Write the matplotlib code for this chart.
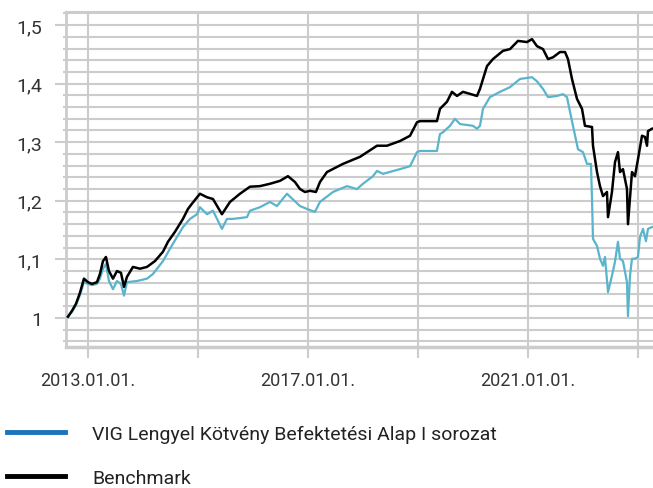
import numpy as np
import matplotlib.pyplot as plt
from matplotlib.lines import Line2D
from matplotlib.ticker import FuncFormatter, MultipleLocator, FixedLocator

plt.rcParams['font.family'] = ['Roboto', 'DejaVu Sans']

# benchmark (decimal year, value)
bm_year = [2012.636, 2012.709, 2012.782, 2012.855, 2012.927, 2013.0, 2013.073, 2013.164,
           2013.218, 2013.273, 2013.327, 2013.382, 2013.455, 2013.527, 2013.6, 2013.655,
           2013.709, 2013.818, 2013.945, 2014.073, 2014.218, 2014.364, 2014.455, 2014.582,
           2014.727, 2014.818, 2014.891, 2015.036, 2015.164, 2015.273, 2015.436, 2015.582,
           2015.764, 2015.945, 2016.127, 2016.309, 2016.491, 2016.636, 2016.764, 2016.855,
           2016.945, 2017.036, 2017.145, 2017.218, 2017.345, 2017.636, 2017.945, 2018.255,
           2018.436, 2018.673, 2018.855, 2018.982, 2019.036, 2019.345, 2019.4, 2019.527,
           2019.618, 2019.709, 2019.818, 2020.073, 2020.127, 2020.255, 2020.364, 2020.545,
           2020.673, 2020.818, 2020.982, 2021.073, 2021.164, 2021.273, 2021.364, 2021.455,
           2021.582, 2021.673, 2021.727, 2021.8, 2021.891, 2021.982, 2022.036, 2022.164,
           2022.182, 2022.255, 2022.309, 2022.364, 2022.436, 2022.455, 2022.527, 2022.582,
           2022.636, 2022.673, 2022.727, 2022.8, 2022.818, 2022.891, 2022.945, 2023.0,
           2023.073, 2023.127, 2023.164, 2023.182, 2023.255]
bm_val = [1.002, 1.012, 1.024, 1.043, 1.067, 1.061, 1.058, 1.061,
          1.075, 1.097, 1.104, 1.080, 1.067, 1.080, 1.077, 1.053,
          1.070, 1.087, 1.084, 1.087, 1.097, 1.113, 1.130, 1.147,
          1.169, 1.186, 1.195, 1.212, 1.206, 1.203, 1.177, 1.198,
          1.212, 1.224, 1.225, 1.229, 1.234, 1.242, 1.232, 1.220,
          1.215, 1.217, 1.215, 1.232, 1.249, 1.263, 1.275, 1.294,
          1.294, 1.302, 1.311, 1.334, 1.336, 1.336, 1.357, 1.369,
          1.386, 1.379, 1.386, 1.379, 1.391, 1.430, 1.442, 1.456,
          1.459, 1.473, 1.471, 1.476, 1.464, 1.459, 1.442, 1.445,
          1.454, 1.454, 1.442, 1.408, 1.374, 1.357, 1.328, 1.326,
          1.294, 1.249, 1.225, 1.208, 1.215, 1.172, 1.215, 1.266,
          1.283, 1.249, 1.254, 1.220, 1.160, 1.249, 1.242, 1.271,
          1.311, 1.309, 1.294, 1.319, 1.323]

# fund, I series
fund_year = [2012.636, 2012.709, 2012.782, 2012.855, 2012.927, 2013.0, 2013.073, 2013.164,
             2013.218, 2013.273, 2013.327, 2013.382, 2013.455, 2013.527, 2013.6, 2013.655,
             2013.709, 2013.891, 2014.073, 2014.182, 2014.364, 2014.491, 2014.618, 2014.727,
             2014.855, 2014.982, 2015.036, 2015.164, 2015.273, 2015.436, 2015.527, 2015.636,
             2015.891, 2015.945, 2016.127, 2016.309, 2016.436, 2016.618, 2016.855, 2016.982,
             2017.127, 2017.218, 2017.455, 2017.709, 2017.891, 2018.0, 2018.182, 2018.255,
             2018.364, 2018.673, 2018.855, 2018.982, 2019.036, 2019.345, 2019.4, 2019.455,
             2019.582, 2019.673, 2019.764, 2020.0, 2020.073, 2020.127, 2020.182, 2020.309,
             2020.491, 2020.673, 2020.855, 2021.073, 2021.164, 2021.273, 2021.364, 2021.527,
             2021.636, 2021.709, 2021.764, 2021.818, 2021.909, 2022.0, 2022.073, 2022.145,
             2022.164, 2022.182, 2022.255, 2022.309, 2022.364, 2022.4, 2022.455, 2022.527,
             2022.582, 2022.636, 2022.673, 2022.727, 2022.8, 2022.818, 2022.855, 2022.891,
             2022.945, 2023.0, 2023.036, 2023.091, 2023.145, 2023.182, 2023.255]
fund_val = [1.002, 1.010, 1.022, 1.039, 1.061, 1.058, 1.056, 1.058,
            1.067, 1.084, 1.092, 1.063, 1.049, 1.063, 1.058, 1.038,
            1.061, 1.063, 1.067, 1.075, 1.097, 1.118, 1.138, 1.155,
            1.169, 1.177, 1.189, 1.177, 1.183, 1.152, 1.169, 1.169,
            1.172, 1.183, 1.189, 1.198, 1.191, 1.212, 1.191, 1.186,
            1.181, 1.198, 1.215, 1.225, 1.220, 1.229, 1.242, 1.251,
            1.246, 1.254, 1.259, 1.283, 1.285, 1.285, 1.314, 1.317,
            1.328, 1.340, 1.331, 1.328, 1.323, 1.328, 1.357, 1.377,
            1.386, 1.394, 1.408, 1.411, 1.404, 1.391, 1.377, 1.379,
            1.382, 1.377, 1.352, 1.328, 1.288, 1.283, 1.263, 1.263,
            1.203, 1.135, 1.123, 1.101, 1.089, 1.104, 1.044, 1.072,
            1.096, 1.130, 1.101, 1.097, 1.061, 1.003, 1.072, 1.101,
            1.101, 1.104, 1.138, 1.152, 1.131, 1.152, 1.155]

labels = ['VIG Lengyel Kötvény Befektetési Alap I sorozat', 'Benchmark']
x_ticks = [2013, 2015, 2017, 2019, 2021, 2023]
grid_c = '#cccccc'
text_c = '#333333'

fig = plt.figure(figsize=(6.53, 4.89), dpi=100)
ax = fig.add_axes([0.101, 0.288, 0.899, 0.685])

ax.plot(fund_year, fund_val, color='#5ab4cc', lw=1.6, zorder=3)
ax.plot(bm_year, bm_val, color='black', lw=1.8, zorder=4)

ax.set_xlim(2012.6, 2023.273)
ax.set_ylim(0.95, 1.522)

# grid
ax.yaxis.set_major_locator(MultipleLocator(0.1))
ax.yaxis.set_minor_locator(MultipleLocator(0.02))
ax.xaxis.set_major_locator(FixedLocator(x_ticks))
ax.grid(True, which='both', axis='y', color=grid_c, lw=1.5)
ax.grid(True, which='major', axis='x', color=grid_c, lw=1.5)
ax.set_axisbelow(True)

def yfmt(v, pos):
    s = ('%.1f' % v).rstrip('0').rstrip('.')
    return s.replace('.', ',')

def xfmt(v, pos):
    y = int(round(v))
    return '%d.01.01.' % y if (y - 2013) % 4 == 0 else ''

ax.yaxis.set_major_formatter(FuncFormatter(yfmt))
ax.xaxis.set_major_formatter(FuncFormatter(xfmt))

ax.tick_params(axis='y', which='major', length=8, width=1.5, color=grid_c,
               labelsize=14, labelcolor=text_c, pad=9)
ax.tick_params(axis='y', which='minor', length=2, width=1.5, color=grid_c)
ax.tick_params(axis='x', which='major', length=8, width=1.5, color=grid_c,
               labelsize=13, labelcolor=text_c, pad=9)

ax.spines['right'].set_visible(False)
ax.spines['top'].set_color(grid_c)
ax.spines['top'].set_linewidth(1.5)
ax.spines['left'].set_color(grid_c)
ax.spines['left'].set_linewidth(2)
ax.spines['bottom'].set_color(grid_c)
ax.spines['bottom'].set_linewidth(2.5)

handles = [Line2D([], [], color='#1a73bb', lw=3.5),
           Line2D([], [], color='black', lw=3.5)]
fig.legend(handles, labels, loc='upper left', bbox_to_anchor=(0.01, 0.13),
           frameon=False, fontsize=14, handlelength=3.0, handletextpad=1.4,
           labelspacing=1.36, borderaxespad=0, borderpad=0, labelcolor='#222222')

fig.savefig('out.png', dpi=100)
